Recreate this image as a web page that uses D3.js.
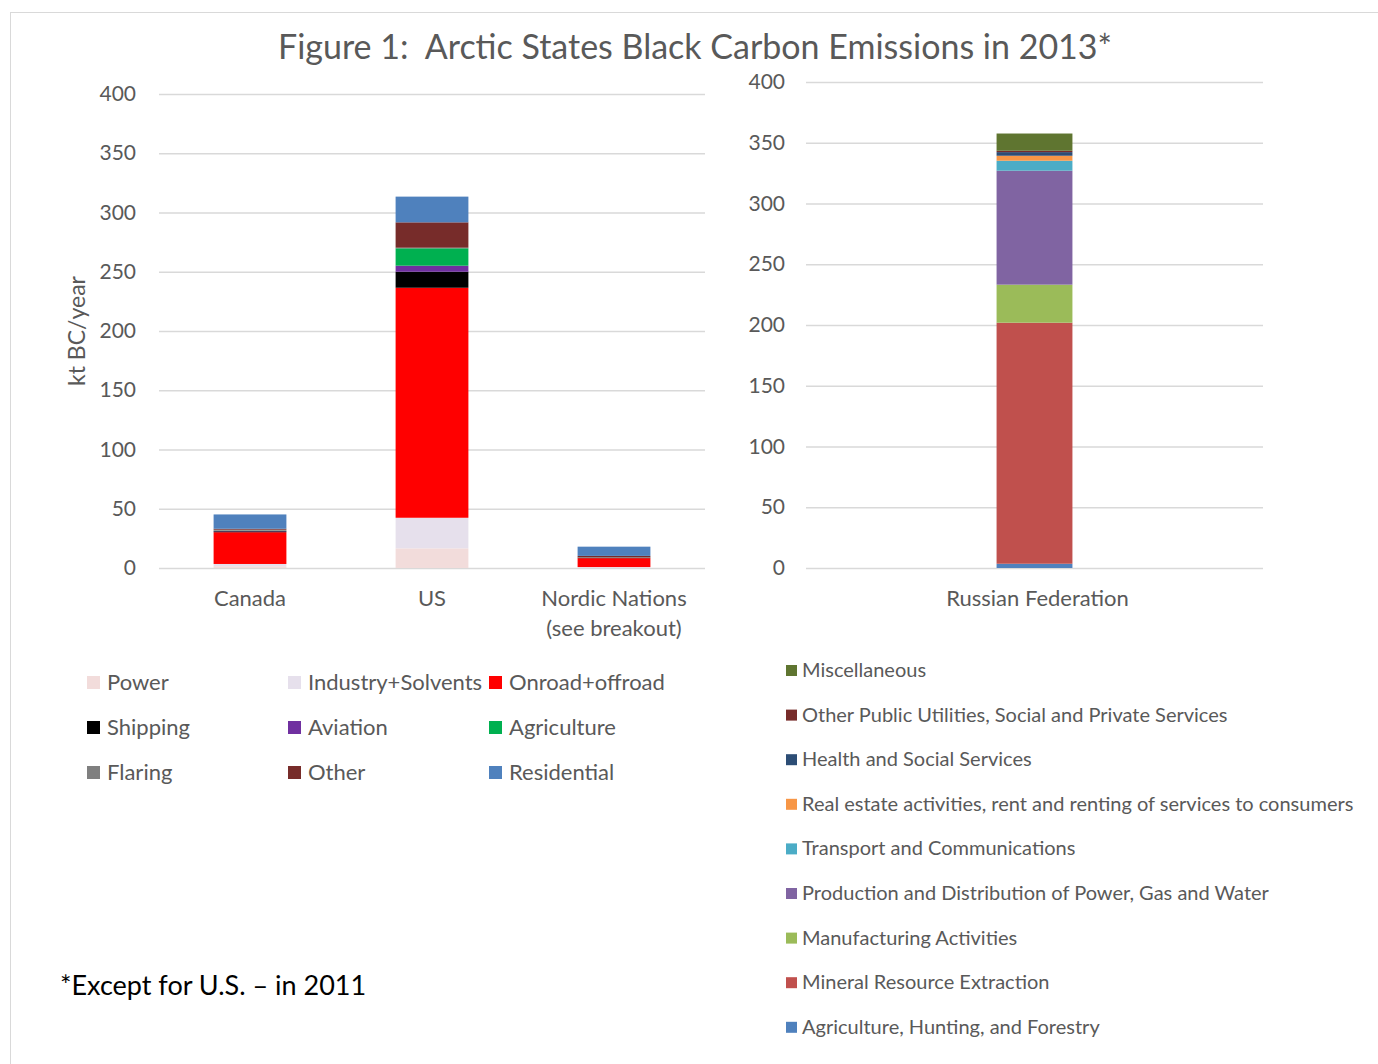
<!DOCTYPE html>
<html>
<head>
<meta charset="utf-8">
<script src="https://cdn.jsdelivr.net/npm/d3@7"></script>
<style>
  html, body { margin: 0; padding: 0; background: #ffffff; }
  svg text { font-family: Lato, "Open Sans", sans-serif; fill: #595959; white-space: pre; }
</style>
</head>
<body>
<svg id="chart" width="1378" height="1064"></svg>
<script>
// ---- Data: Arctic States black carbon emissions (kt BC/year) ----
const leftCategories = ["Canada", "US", "Nordic Nations"];
const leftCategorySub = ["", "", "(see breakout)"];

const leftSeriesNames = ["Power", "Industry+Solvents", "Onroad+offroad", "Shipping",
  "Aviation", "Agriculture", "Flaring", "Other", "Residential"];
const power       = [1.5, 16.6, 0.3];
const industry    = [1.9, 25.8, 0.5];
const onroad      = [26.8, 194.1, 7.5];
const shipping    = [0.8, 13.5, 0.3];
const aviation    = [0.3, 5.1, 0.1];
const agriculture = [0.2, 14.7, 0.1];
const flaring     = [0.8, 0.5, 0.2];
const other       = [0.8, 21.4, 1.2];
const residential = [12.1, 21.7, 7.8];
const leftColors = ["#f2dcdb", "#e6e0ec", "#ff0000", "#000000", "#7030a0",
  "#00b050", "#7f7f7f", "#772c2a", "#4f81bd"];

const rightCategories = ["Russian Federation"];
const rightSeriesNames = ["Agriculture, Hunting, and Forestry", "Mineral Resource Extraction",
  "Manufacturing Activities", "Production and Distribution of Power, Gas and Water",
  "Transport and Communications", "Real estate activities, rent and renting of services to consumers",
  "Health and Social Services", "Other Public Utilities, Social and Private Services", "Miscellaneous"];
const agriHunting   = [3.5];
const mineral       = [198.4];
const manufacturing = [31.3];
const powerGasWater = [93.8];
const transport     = [8.2];
const realEstate    = [4.1];
const health        = [3.0];
const otherPublic   = [1.1];
const miscellaneous = [14.2];
const rightColors = ["#4f81bd", "#c0504d", "#9bbb59", "#8064a2", "#4bacc6",
  "#f79646", "#2c4d75", "#772c2a", "#5f7530"];

const yTicks = [0, 50, 100, 150, 200, 250, 300, 350, 400];

// ---- Build tables for d3.stack ----
const leftValues = [power, industry, onroad, shipping, aviation, agriculture, flaring, other, residential];
const leftTable = leftCategories.map((c, i) => {
  const row = { category: c };
  leftSeriesNames.forEach((s, j) => { row[s] = leftValues[j][i]; });
  return row;
});
const rightValues = [agriHunting, mineral, manufacturing, powerGasWater, transport,
  realEstate, health, otherPublic, miscellaneous];
const rightTable = rightCategories.map((c, i) => {
  const row = { category: c };
  rightSeriesNames.forEach((s, j) => { row[s] = rightValues[j][i]; });
  return row;
});

const svg = d3.select("#chart");

// outer frame
svg.append("rect").attr("x", 10.5).attr("y", 12.5).attr("width", 1380).attr("height", 1070)
  .attr("fill", "none").attr("stroke", "#d9d9d9").attr("stroke-width", 1);

// title
svg.append("text").attr("x", 695).attr("y", 59).attr("text-anchor", "middle")
  .style("font-size", "34px")
  .text("Figure 1:  Arctic States Black Carbon Emissions in 2013*");

function drawPanel(opts) {
  const { table, keys, colors, x0, x1, y0, y400, padding, tickPad } = opts;
  const x = d3.scaleBand().domain(table.map(d => d.category)).range([x0, x1])
    .paddingInner(padding).paddingOuter(padding / 2);
  const y = d3.scaleLinear().domain([0, 400]).range([y0, y400]);

  const axis = d3.axisLeft(y).tickValues(yTicks).tickSize(-(x1 - x0)).tickPadding(tickPad);
  const g = svg.append("g").attr("transform", `translate(${x0},0)`).call(axis);
  g.select(".domain").remove();
  g.selectAll(".tick line").attr("stroke", "#d9d9d9").attr("stroke-width", 1.5);
  g.selectAll(".tick text").style("font-size", "21px").attr("fill", "#595959")
    .style("font-family", "Lato, 'Open Sans', sans-serif");

  const stacked = d3.stack().keys(keys)(table);
  svg.append("g").selectAll("g").data(stacked).join("g")
    .attr("fill", (d, i) => colors[i])
    .selectAll("rect").data(d => d).join("rect")
    .attr("x", d => x(d.data.category))
    .attr("width", x.bandwidth())
    .attr("y", d => y(d[1]))
    .attr("height", d => y(d[0]) - y(d[1]));
  return { x, y };
}

// left panel: Canada, US, Nordic
const left = drawPanel({ table: leftTable, keys: leftSeriesNames, colors: leftColors,
  x0: 159, x1: 705, y0: 568, y400: 94, padding: 0.6, tickPad: 23 });
// right panel: Russian Federation
const right = drawPanel({ table: rightTable, keys: rightSeriesNames, colors: rightColors,
  x0: 806, x1: 1263, y0: 568, y400: 82, padding: 0.834, tickPad: 21 });

// category labels
leftCategories.forEach((c, i) => {
  const cx = left.x(c) + left.x.bandwidth() / 2;
  svg.append("text").attr("x", cx).attr("y", 606).attr("text-anchor", "middle")
    .style("font-size", "22px").text(c);
  if (leftCategorySub[i]) {
    svg.append("text").attr("x", cx).attr("y", 636).attr("text-anchor", "middle")
      .style("font-size", "22px").text(leftCategorySub[i]);
  }
});
rightCategories.forEach(c => {
  const cx = right.x(c) + right.x.bandwidth() / 2;
  svg.append("text").attr("x", cx + 3).attr("y", 606).attr("text-anchor", "middle")
    .style("font-size", "22px").text(c);
});

// y axis title
svg.append("text").attr("transform", "translate(85,331) rotate(-90)")
  .attr("text-anchor", "middle").style("font-size", "23px").text("kt BC/year");

// left legend: 3 columns x 3 rows
const legCols = [87, 288, 489];
const legRows = [682, 727, 772];
leftSeriesNames.forEach((s, i) => {
  const cx = legCols[i % 3], cy = legRows[Math.floor(i / 3)];
  svg.append("rect").attr("x", cx).attr("y", cy - 6).attr("width", 13).attr("height", 13)
    .attr("fill", leftColors[i]);
  svg.append("text").attr("x", cx + 20).attr("y", cy + 8).style("font-size", "22px").text(s);
});

// right legend: single column, top-most series first
const rightLegendOrder = rightSeriesNames.map((s, i) => i).reverse();
rightLegendOrder.forEach((idx, k) => {
  const cy = 670 + k * 44.6;
  svg.append("rect").attr("x", 786).attr("y", cy - 5).attr("width", 11).attr("height", 11)
    .attr("fill", rightColors[idx]);
  svg.append("text").attr("x", 802).attr("y", cy + 7).style("font-size", "20px")
    .text(rightSeriesNames[idx]);
});

// footnote
svg.append("text").attr("x", 60).attr("y", 995).style("font-size", "27px")
  .style("fill", "#000000").text("*Except for U.S. – in 2011");
</script>
</body>
</html>
